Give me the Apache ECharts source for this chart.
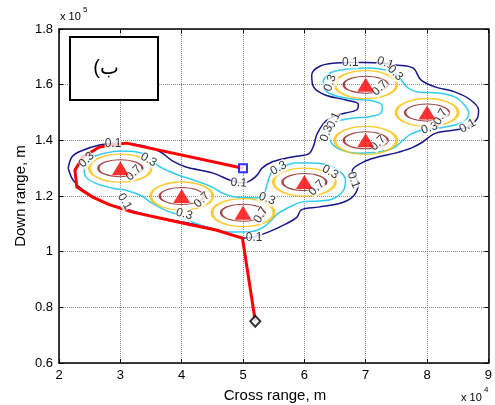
<!DOCTYPE html>
<html><head><meta charset="utf-8">
<script src="https://cdn.jsdelivr.net/npm/echarts@6/dist/echarts.min.js"></script>
<style>html,body{margin:0;padding:0;background:#fff}#c{width:495px;height:405px}</style>
</head><body><div id="c"></div>
<script>
// ---- data (x in 1e4 m, y in 1e5 m) ----
const xTicks = [2, 3, 4, 5, 6, 7, 8, 9];
const yTicks = [0.6, 0.8, 1, 1.2, 1.4, 1.6, 1.8];
const threatX = [3, 4, 5, 6, 7, 8, 7];
const threatY = [1.3, 1.2, 1.14, 1.25, 1.6, 1.5, 1.4];
const startPoint = [5, 1.3];
const endPoint = [5.2, 0.75];
const pathX = [5, 3.1, 2.66, 2.39, 2.26, 2.29, 2.55, 2.83, 3.2, 3.64, 4.01, 4.56, 4.88, 4.99, 5.2];
const pathY = [1.3, 1.39, 1.376, 1.34, 1.293, 1.232, 1.196, 1.168, 1.142, 1.121, 1.103, 1.078, 1.056, 1.049, 0.75];
// contour level 0.1 (one closed loop)
const contour01 = [[2.15,1.30],[2.21,1.34],[2.34,1.36],[2.66,1.383],[2.99,1.39],[3.31,1.383],[3.64,1.36],[3.85,1.326],[4.07,1.304],[4.50,1.283],[4.82,1.254],[5.01,1.247],[5.13,1.257],[5.23,1.275],[5.31,1.30],[5.47,1.322],[5.70,1.336],[5.91,1.344],[6.07,1.351],[6.15,1.38],[6.20,1.419],[6.31,1.46],[6.42,1.48],[6.67,1.498],[6.85,1.509],[6.88,1.53],[6.68,1.545],[6.34,1.563],[6.15,1.592],[6.12,1.635],[6.26,1.667],[6.51,1.678],[6.75,1.68],[6.99,1.68],[7.25,1.678],[7.48,1.671],[7.77,1.66],[7.90,1.617],[8.13,1.592],[8.45,1.574],[8.71,1.545],[8.84,1.509],[8.82,1.48],[8.66,1.448],[8.45,1.437],[8.14,1.426],[8.01,1.408],[7.93,1.394],[7.74,1.372],[7.48,1.354],[7.20,1.34],[6.96,1.322],[6.78,1.29],[6.88,1.245],[6.80,1.20],[6.60,1.175],[6.23,1.16],[5.95,1.15],[5.88,1.124],[5.70,1.10],[5.42,1.071],[5.18,1.053],[5.01,1.049],[4.82,1.06],[4.40,1.089],[4.01,1.107],[3.64,1.121],[3.31,1.139],[3.04,1.157],[2.71,1.178],[2.39,1.222],[2.23,1.257],[2.15,1.30]];
// contour level 0.3 (two closed loops)
const contour03a = [[2.41,1.30],[2.53,1.336],[2.75,1.354],[3.02,1.362],[3.35,1.354],[3.62,1.308],[3.78,1.29],[4.04,1.268],[4.29,1.25],[4.50,1.232],[4.66,1.211],[4.88,1.196],[5.21,1.193],[5.34,1.207],[5.39,1.24],[5.47,1.286],[5.63,1.304],[5.86,1.319],[6.12,1.319],[6.39,1.311],[6.59,1.286],[6.67,1.257],[6.64,1.221],[6.47,1.19],[6.23,1.182],[5.95,1.178],[5.79,1.164],[5.58,1.139],[5.45,1.11],[5.31,1.085],[5.10,1.071],[4.77,1.071],[4.45,1.085],[4.17,1.107],[3.94,1.132],[3.72,1.15],[3.51,1.175],[3.35,1.20],[3.13,1.218],[2.86,1.229],[2.58,1.247],[2.42,1.275],[2.41,1.30]];
const contour03b = [[6.31,1.617],[6.42,1.642],[6.60,1.653],[6.99,1.66],[7.25,1.656],[7.48,1.642],[7.58,1.617],[7.69,1.588],[7.85,1.574],[8.18,1.57],[8.45,1.556],[8.61,1.527],[8.68,1.498],[8.61,1.469],[8.45,1.455],[8.18,1.444],[7.93,1.437],[7.74,1.423],[7.61,1.401],[7.45,1.372],[7.20,1.358],[6.88,1.354],[6.64,1.362],[6.47,1.383],[6.41,1.412],[6.44,1.448],[6.55,1.469],[6.80,1.48],[7.04,1.484],[7.25,1.498],[7.27,1.523],[7.12,1.541],[6.80,1.548],[6.51,1.56],[6.34,1.581],[6.31,1.617]];
// contour labels: [x, y, angle]
const labels01 = [[2.88,1.387,0],[4.93,1.247,-5],[5.18,1.049,0],[6.75,1.68,0],[7.32,1.678,-20],[6.48,1.472,65],[8.66,1.452,30],[6.80,1.257,-70],[3.07,1.18,-60]];
const labels03 = [[2.45,1.33,45],[3.46,1.33,-30],[4.04,1.135,-15],[5.39,1.19,-20],[5.58,1.30,30],[6.42,1.286,-30],[6.42,1.606,70],[7.48,1.642,-45],[6.36,1.425,70],[8.04,1.444,20]];
const labels07 = [[3.22,1.283,45],[4.33,1.186,45],[5.29,1.132,60],[6.20,1.229,45],[7.23,1.588,45],[8.22,1.484,60],[7.20,1.39,45]];

const FONT = 'Liberation Sans, Arial, sans-serif';
const ellipse = 'path://M0,10A10,10,0,1,1,20,10A10,10,0,1,1,0,10Z';
const threats = threatX.map((x, i) => [x, threatY[i]]);
const path = pathX.map((x, i) => [x, pathY[i]]);

function contourLine(data, color, width) {
  return { type: 'line', data: data, showSymbol: false, symbol: 'none', smooth: 0.35,
    lineStyle: { color: color, width: width }, z: 3, silent: true, animation: false };
}
function ring(color, size, width) {
  return { type: 'scatter', data: threats, symbol: ellipse, symbolKeepAspect: false, symbolSize: size,
    itemStyle: { color: 'rgba(0,0,0,0)', borderColor: color, borderWidth: width }, z: 3, silent: true, animation: false };
}
function labelSeries(arr, text) {
  return { type: 'scatter', symbolSize: 0, z: 6, silent: true, animation: false,
    data: arr.map(a => ({ value: [a[0], a[1]], label: { rotate: a[2] } })),
    label: { show: true, position: 'inside', formatter: text, fontFamily: FONT, fontSize: 12, color: '#000',
      backgroundColor: '#fff', padding: [0, 0] } };
}

const chart = echarts.init(document.getElementById('c'), null, { renderer: 'canvas' });
const gridStyle = { show: true, lineStyle: { color: '#8a8a8a', type: 'dotted', width: 1 } };
chart.setOption({
  animation: false,
  grid: { left: 59, top: 29, width: 432, height: 334 },
  xAxis: [
    { type: 'value', min: xTicks[0], max: xTicks[xTicks.length - 1], interval: 1,
      axisLine: { lineStyle: { color: '#000', width: 1.5 } },
      axisTick: { inside: true, length: 4, lineStyle: { color: '#000' } },
      axisLabel: { fontFamily: FONT, fontSize: 13, color: '#000', margin: 6 }, splitLine: gridStyle },
    { type: 'value', position: 'top', min: xTicks[0], max: xTicks[xTicks.length - 1], interval: 1,
      axisLine: { show: true, lineStyle: { color: '#000', width: 1.5 } },
      axisTick: { inside: true, length: 4, lineStyle: { color: '#000' } }, axisLabel: { show: false }, splitLine: { show: false } }
  ],
  yAxis: [
    { type: 'value', min: yTicks[0], max: yTicks[yTicks.length - 1], interval: 0.2,
      axisLine: { show: true, lineStyle: { color: '#000', width: 1.5 } },
      axisTick: { show: true, inside: true, length: 4, lineStyle: { color: '#000' } },
      axisLabel: { fontFamily: FONT, fontSize: 13, color: '#000', margin: 6, formatter: v => String(+v.toFixed(1)) }, splitLine: gridStyle },
    { type: 'value', position: 'right', min: yTicks[0], max: yTicks[yTicks.length - 1], interval: 0.2,
      axisLine: { show: true, lineStyle: { color: '#000', width: 1.5 } },
      axisTick: { show: true, inside: true, length: 4, lineStyle: { color: '#000' } }, axisLabel: { show: false }, splitLine: { show: false } }
  ],
  graphic: [
    { type: 'rect', left: 69, top: 36, shape: { width: 88, height: 63 }, style: { fill: '#fff', stroke: '#000', lineWidth: 2 }, z: 10 },
    { type: 'text', x: 106, y: 68, z: 11, style: { text: '(ب', font: '20px "Liberation Sans", "DejaVu Sans", sans-serif', fill: '#000', align: 'center', verticalAlign: 'middle' } },
    { type: 'text', x: 275, y: 396, style: { text: 'Cross range, m', font: '15px ' + FONT, fill: '#000', align: 'center', verticalAlign: 'middle' } },
    { type: 'text', x: 21, y: 196, rotation: Math.PI / 2, style: { text: 'Down range, m', font: '15px ' + FONT, fill: '#000', align: 'center', verticalAlign: 'middle' } },
    { type: 'text', x: 60, y: 17, style: { text: 'x 10', font: '11px ' + FONT, fill: '#000', align: 'left', verticalAlign: 'middle' } },
    { type: 'text', x: 83, y: 10, style: { text: '5', font: '8px ' + FONT, fill: '#000', align: 'left', verticalAlign: 'middle' } },
    { type: 'text', x: 461, y: 398, style: { text: 'x 10', font: '11px ' + FONT, fill: '#000', align: 'left', verticalAlign: 'middle' } },
    { type: 'text', x: 484, y: 390, style: { text: '4', font: '8px ' + FONT, fill: '#000', align: 'left', verticalAlign: 'middle' } }
  ],
  series: [
    contourLine(contour01, '#17178c', 1.5),
    contourLine(contour03a, '#33cdef', 1.5),
    contourLine(contour03b, '#33cdef', 1.5),
    ring('#ffbf00', [62, 28], 2),
    ring('#8b1a1a', [44, 17], 1.5),
    { type: 'line', data: path, showSymbol: false, symbol: 'none', lineStyle: { color: '#ff0000', width: 3 }, z: 5, animation: false },
    labelSeries(labels01, '0.1'),
    labelSeries(labels03, '0.3'),
    labelSeries(labels07, '0.7'),
    { type: 'scatter', data: threats, symbol: 'triangle', symbolSize: [17, 14], itemStyle: { color: '#ff0000' }, z: 7, animation: false },
    { type: 'scatter', data: [startPoint], symbol: 'rect', symbolSize: 8, itemStyle: { color: '#fff', borderColor: '#0000ff', borderWidth: 2 }, z: 8, animation: false },
    { type: 'scatter', data: [endPoint], symbol: 'diamond', symbolSize: [10, 11], itemStyle: { color: '#fff', borderColor: '#000', borderWidth: 2 }, z: 8, animation: false }
  ]
});
</script></body></html>
